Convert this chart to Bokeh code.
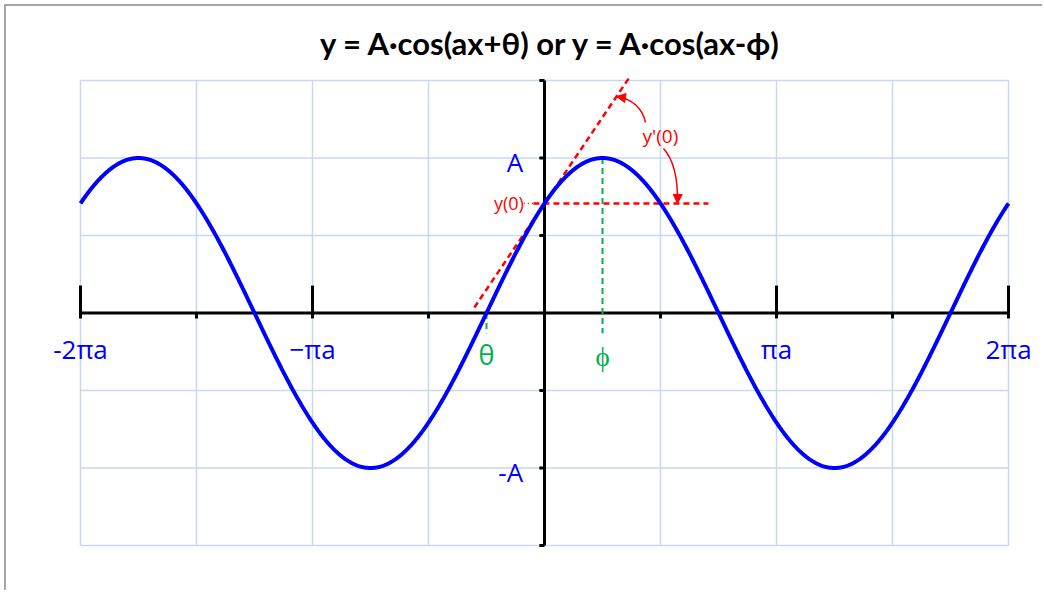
import numpy as np
from bokeh.plotting import figure
from bokeh.models import Range1d, Arrow, NormalHead
from bokeh.core.properties import value
from bokeh.embed import file_html
from bokeh.resources import INLINE

PI = np.pi

# Wave parameters: y = A*cos(ax - phi), a = 1, theta = -phi
amplitude = 1.0
phase = PI / 4

# Plot box extent and grid
x_span = (-2 * PI, 2 * PI)
y_span = (-1.5 * amplitude, 1.5 * amplitude)
grid_x = [k * PI / 2 for k in range(-4, 5)]
grid_y = [-1.5, -1.0, -0.5, 0.0, 0.5, 1.0, 1.5]

# Tick marks and labels
major_x = [-2 * PI, -PI, PI, 2 * PI]
major_x_labels = ["-2πa", "−πa", "πa", "2πa"]
minor_x = [-3 * PI / 2, -PI / 2, PI / 2, 3 * PI / 2]
y_ticks = [-1.5, -1.0, -0.5, 0.5, 1.0, 1.5]
y_label_values = [amplitude, -amplitude]
y_labels = ["A", "-A"]

# Tangent and helper line extents (x in units of ax)
tangent_x = [-0.95, 1.14]
y0_line_x = [-0.15, 2.22]
y0_dot_x = [-0.28, -0.15]
phase_drop = -0.13

# Curve
x = np.linspace(x_span[0], x_span[1], 1201)
y = amplitude * np.cos(x - phase)

y0 = amplitude * np.cos(-phase)          # y(0)
slope = amplitude * np.sin(phase)        # y'(0)
tangent_y = [y0 + slope * t for t in tangent_x]

RED = "#ff0000"
GREEN = "#00b050"
BLUE = "#0000ff"
GRID = "#c6d9f1"

# Canvas layout: plot box inset inside the drawing area
W, H = 1038, 586
pad_l, pad_r, pad_t, pad_b = 74, 36, 74, 47
sx = (W - pad_l - pad_r) / (x_span[1] - x_span[0])
sy = (H - pad_t - pad_b) / (y_span[1] - y_span[0])
xr = Range1d(x_span[0] - pad_l / sx, x_span[1] + pad_r / sx)
yr = Range1d(y_span[0] - pad_b / sy, y_span[1] + pad_t / sy)

p = figure(width=W, height=H, output_backend="svg", toolbar_location=None,
           x_range=xr, y_range=yr, x_axis_type=None, y_axis_type=None,
           min_border=0, min_border_left=0, min_border_right=0,
           min_border_top=0, min_border_bottom=0)
p.styles = {"margin-left": "4px", "margin-top": "4px",
            "border-left": "2px solid #a6a6a6", "border-top": "2px solid #a6a6a6"}
p.outline_line_color = None
p.background_fill_color = "white"
p.border_fill_color = "white"
p.xgrid.visible = False
p.ygrid.visible = False

# Grid
p.segment(x0=grid_x, y0=[y_span[0]] * len(grid_x), x1=grid_x, y1=[y_span[1]] * len(grid_x),
          line_color=GRID, line_width=1.5)
p.segment(x0=[x_span[0]] * len(grid_y), y0=grid_y, x1=[x_span[1]] * len(grid_y), y1=grid_y,
          line_color=GRID, line_width=1.5)

# Axes crossing at the origin
p.segment(x0=[x_span[0]], y0=[0], x1=[x_span[1]], y1=[0], line_color="black", line_width=3)
p.segment(x0=[0], y0=[y_span[0]], x1=[0], y1=[y_span[1]], line_color="black", line_width=3)
p.segment(x0=major_x, y0=[-0.035] * 4, x1=major_x, y1=[0.177] * 4, line_color="black", line_width=3)
p.segment(x0=minor_x, y0=[-0.035] * 4, x1=minor_x, y1=[0] * 4, line_color="black", line_width=3)
p.segment(x0=[-0.07] * len(y_ticks), y0=y_ticks, x1=[0] * len(y_ticks), y1=y_ticks,
          line_color="black", line_width=3)

# Helper lines
p.line(tangent_x, tangent_y, line_color=RED, line_width=2.5, line_dash="6 4")
p.line(y0_line_x, [y0, y0], line_color=RED, line_width=2.5, line_dash="6 4")
p.line(y0_dot_x, [y0, y0], line_color=RED, line_width=1.5, line_dash="1 3")
p.line([phase, phase], [amplitude, phase_drop], line_color=GREEN, line_width=2, line_dash="6 4")
p.line([-phase, -phase], [0, phase_drop], line_color=GREEN, line_width=2, line_dash="6 4")

# The wave
p.line(x, y, line_color=BLUE, line_width=4)

# Curved pointers for y'(0)
ptr_start_x = [1.368, 1.611]
ptr_start_y = [1.229, 1.061]
ptr_ctrl_x = [1.30, 1.815]
ptr_ctrl_y = [1.371, 0.952]
ptr_end_x = [0.975, 1.80]
ptr_end_y = [y0 + slope * ptr_end_x[0], y0]
p.quadratic(x0=ptr_start_x, y0=ptr_start_y, x1=ptr_end_x, y1=ptr_end_y,
            cx=ptr_ctrl_x, cy=ptr_ctrl_y, line_color=RED, line_width=1.5)
for ex, ey, cx, cy in zip(ptr_end_x, ptr_end_y, ptr_ctrl_x, ptr_ctrl_y):
    dx, dy = ex - cx, ey - cy
    p.add_layout(Arrow(end=NormalHead(size=9, fill_color=RED, line_color=RED),
                       x_start=ex - 0.05 * dx, y_start=ey - 0.05 * dy, x_end=ex, y_end=ey,
                       line_alpha=0))

# Title
p.text(x=[0.1], y=[1.745], text=["y = A·cos(ax+θ) or y = A·cos(ax-ϕ)"], text_align="center",
       text_baseline="middle", text_color="black", text_font=value("Lato"),
       text_font_style="bold", text_font_size="31px")

# Labels
p.text(x=major_x, y=[-0.235] * 4, text=major_x_labels, text_align="center",
       text_baseline="middle", text_color=BLUE, text_font=value("Open Sans"),
       text_font_size="26px")
p.text(x=[-0.29, -0.29], y=y_label_values, text=y_labels, text_align="right",
       text_baseline="middle", text_color=BLUE, text_font=value("Open Sans"),
       text_font_size="26px", y_offset=4)
p.text(x=[-phase, phase], y=[-0.265, -0.275], text=["θ", "ϕ"], text_align="center",
       text_baseline="middle", text_color=GREEN, text_font=value("Open Sans"),
       text_font_size="27px")
p.text(x=[-0.28], y=[y0], text=["y(0)"], text_align="right", text_baseline="middle",
       text_color=RED, text_font=value("Open Sans"), text_font_size="18px")
p.text(x=[1.57], y=[1.145], text=["y'(0)"], text_align="center", text_baseline="middle",
       text_color=RED, text_font=value("Open Sans"), text_font_size="19px")

open("out.html", "w").write(file_html(p, INLINE))
